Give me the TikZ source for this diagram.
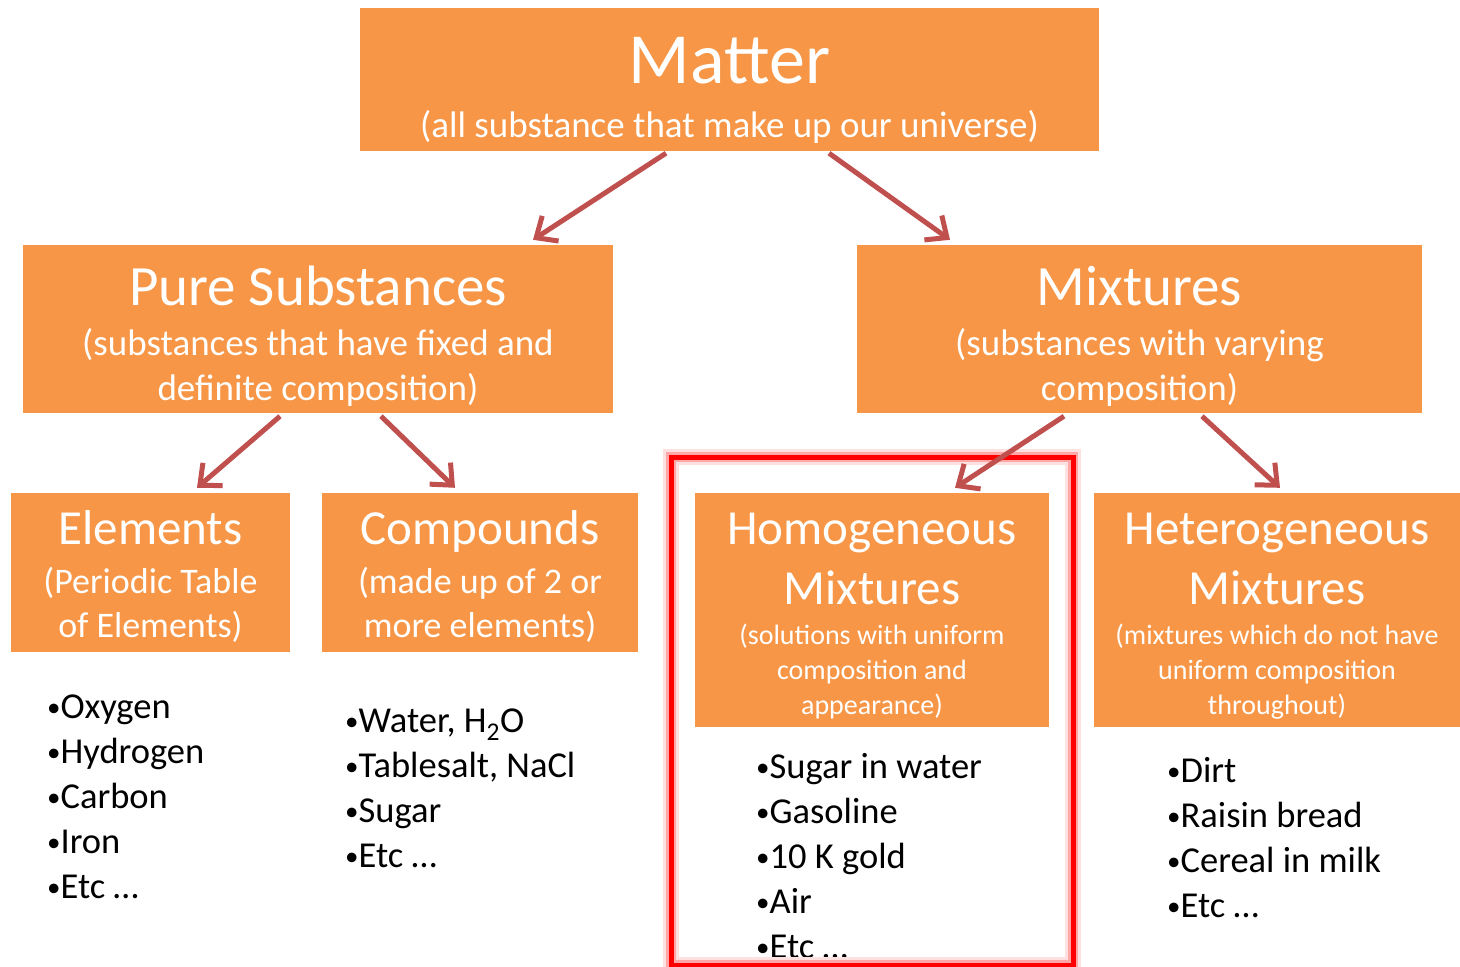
\documentclass[tikz,border=0pt]{standalone}
\usepackage{fontspec}
\setmainfont{Carlito}
\usetikzlibrary{arrows.meta}
\definecolor{boxorange}{HTML}{F79646}
\definecolor{arrowred}{HTML}{C0504D}
\newcommand{\dotitem}{{\fontsize{27}{27}\selectfont\raisebox{2pt}{•}}}

\begin{document}
\begin{tikzpicture}[x=1pt,y=-1pt,
        box/.style={fill=boxorange, text=white, align=center, inner sep=0pt},
        link/.style={arrowred, line width=5pt, -{Straight Barb[length=17pt,width=30pt]}},
        item/.style={anchor=base west, inner sep=0pt, font=\fontsize{36.5}{42}\selectfont}]
    \useasboundingbox (0,0) rectangle (1460,967);

    % boxes
    \node[box, minimum width=739pt, minimum height=143pt, text height=124pt, text depth=9pt,
        font=\fontsize{37}{45}\selectfont] (matter) at (729.5,79.5)
        {{\fontsize{72}{72}\selectfont Matter}\\[9pt](all substance that make up our universe)};
    \node[box, minimum width=590pt, minimum height=168pt, text height=150pt, text depth=8pt,
        font=\fontsize{37}{45}\selectfont] (pure) at (318,329)
        {{\fontsize{57}{57}\selectfont Pure Substances}\\[5pt](substances that have fixed and\\definite composition)};
    \node[box, minimum width=565pt, minimum height=168pt, text height=150pt, text depth=8pt,
        font=\fontsize{37}{45}\selectfont] (mixtures) at (1139.5,329)
        {{\fontsize{57}{57}\selectfont Mixtures}\\[5pt](substances with varying\\composition)};
    \node[box, minimum width=279pt, minimum height=159pt, text height=137pt, text depth=8pt,
        font=\fontsize{36}{44}\selectfont] (elements) at (150.5,572.5)
        {{\fontsize{49}{49}\selectfont Elements}\\[5pt](Periodic Table\\of Elements)};
    \node[box, minimum width=316pt, minimum height=159pt, text height=137pt, text depth=8pt,
        font=\fontsize{36}{44}\selectfont] (compounds) at (480,572.5)
        {{\fontsize{49}{49}\selectfont Compounds}\\[5pt](made up of 2 or\\more elements)};
    \node[box, minimum width=354pt, minimum height=234pt, text height=216pt, text depth=8pt,
        font=\fontsize{28}{35}\selectfont] (homog) at (872,610)
        {{\fontsize{49}{49}\selectfont Homogeneous}\\[16pt]{\fontsize{49}{49}\selectfont Mixtures}\\[5pt](solutions with uniform\\composition and\\appearance)};
    \node[box, minimum width=366pt, minimum height=234pt, text height=216pt, text depth=8pt,
        font=\fontsize{28}{35}\selectfont] (hetero) at (1277,610)
        {{\fontsize{49}{49}\selectfont Heterogeneous}\\[16pt]{\fontsize{49}{49}\selectfont Mixtures}\\[5pt](mixtures which do not have\\uniform composition\\throughout)};

    % examples
    \foreach \txt [count=\i] in {Oxygen,Hydrogen,Carbon,Iron,Etc …}
        \node[item] (elem\i) at (47,673+45*\i) {\dotitem\txt};
    \foreach \txt [count=\i] in {{Water, H\textsubscript{2}O},{Tablesalt, NaCl},Sugar,Etc …}
        \node[item] (comp\i) at (345,687+45*\i) {\dotitem\txt};
    \foreach \txt [count=\i] in {Sugar in water,Gasoline,10 K gold,Air,Etc …}
        \node[item] (homo\i) at (756,733+45*\i) {\dotitem\txt};
    \foreach \txt [count=\i] in {Dirt,Raisin bread,Cereal in milk,Etc …}
        \node[item] (hete\i) at (1167,737+45*\i) {\dotitem\txt};

    % highlight
    \draw[red!12, line width=16pt] (671,457) rectangle (1073,965);
    \draw[red!35, line width=10pt] (671,457) rectangle (1073,965);
    \draw[red, line width=5pt] (671,457) rectangle (1073,965);

    % arrows
    \draw[link] ([shift={(-63.5,2)}]matter.south) -- ([shift={(215,-5)}]pure.north);
    \draw[link] ([shift={(99.5,2)}]matter.south) -- ([shift={(-189.5,-5)}]mixtures.north);
    \draw[link] ([shift={(-38,3)}]pure.south) -- ([shift={(46.5,-5)}]elements.north);
    \draw[link] ([shift={(63,3)}]pure.south) -- ([shift={(-25,-5)}]compounds.north);
    \draw[link] ([shift={(-75.5,3)}]mixtures.south) -- ([shift={(83,-5)}]homog.north);
    \draw[link] ([shift={(62.5,3)}]mixtures.south) -- ([shift={(3,-5)}]hetero.north);
\end{tikzpicture}
\end{document}
